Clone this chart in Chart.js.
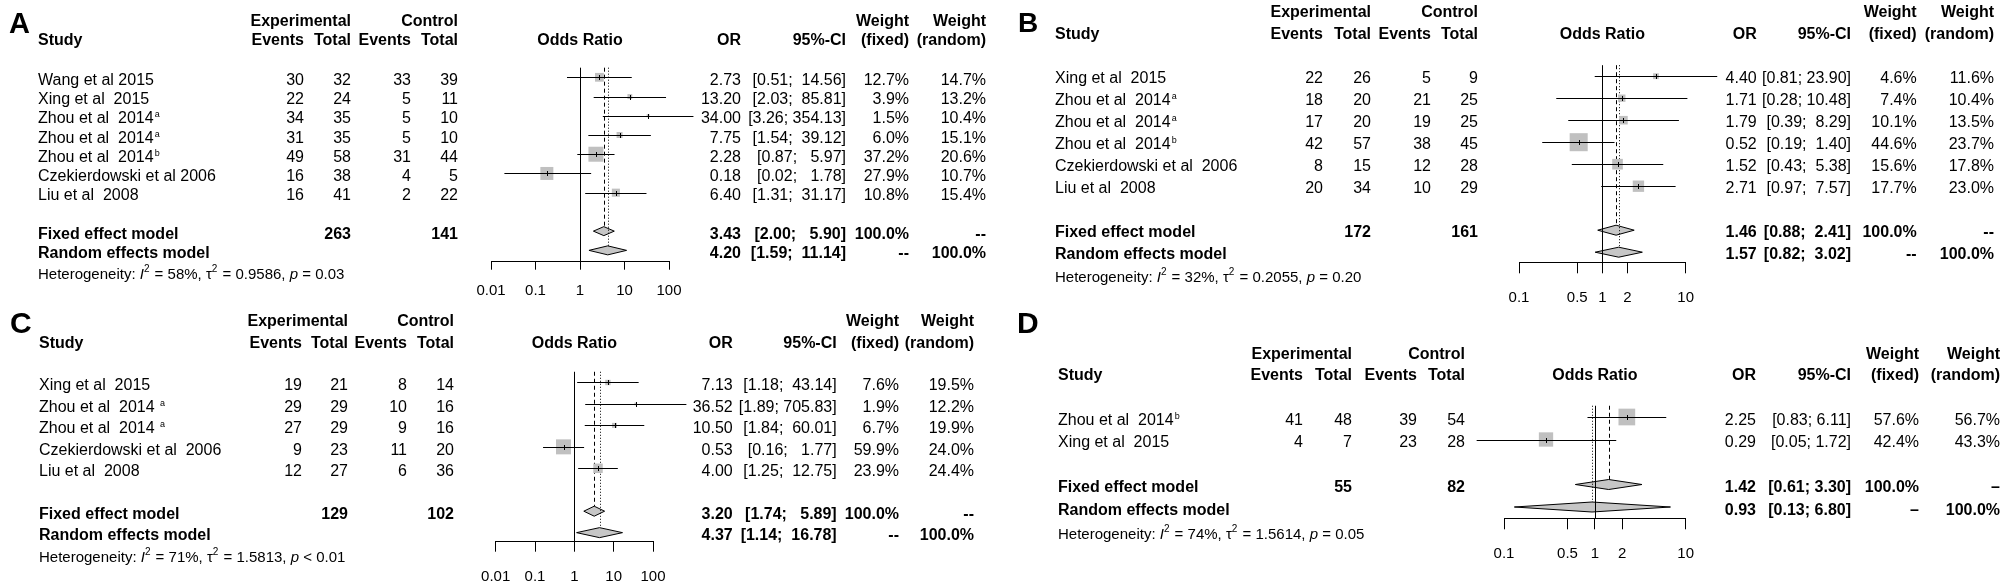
<!DOCTYPE html>
<html>
<head>
<meta charset="utf-8">
<script src="https://cdn.jsdelivr.net/npm/chart.js@4.4.1/dist/chart.umd.min.js"></script>
<style>
  html, body { margin: 0; padding: 0; background: #fff; }
  #wrap { position: relative; width: 2008px; height: 588px; overflow: hidden; background: #fff; }
  #wrap canvas { position: absolute; }
</style>
</head>
<body>
<div id="wrap">
  <canvas id="cA" width="1004" height="310" style="left:0px;top:0px"></canvas>
  <canvas id="cB" width="1004" height="310" style="left:1004px;top:0px"></canvas>
  <canvas id="cC" width="1004" height="278" style="left:0px;top:310px"></canvas>
  <canvas id="cD" width="1004" height="278" style="left:1004px;top:310px"></canvas>
</div>
<script>
// ---------- panel A ----------
const aStudy = ['Wang et al 2015', 'Xing et al  2015', 'Zhou et al  2014', 'Zhou et al  2014', 'Zhou et al  2014', 'Czekierdowski et al 2006', 'Liu et al  2008']
const aSup = ['', '', 'a', 'a', 'b', '', '']
const aExpEvents = [30, 22, 34, 31, 49, 16, 16]
const aExpTotal = [32, 24, 35, 35, 58, 38, 41]
const aCtlEvents = [33, 5, 5, 5, 31, 4, 2]
const aCtlTotal = [39, 11, 10, 10, 44, 5, 22]
const aOR = [2.73, 13.20, 34.00, 7.75, 2.28, 0.18, 6.40]
const aLower = [0.51, 2.03, 3.26, 1.54, 0.87, 0.02, 1.31]
const aUpper = [14.56, 85.81, 354.13, 39.12, 5.97, 1.78, 31.17]
const aWFixed = [12.7, 3.9, 1.5, 6.0, 37.2, 27.9, 10.8]
const aWRandom = [14.7, 13.2, 10.4, 15.1, 20.6, 10.7, 15.4]
const aFixed = [3.43, 2.00, 5.90]
const aRandom = [4.20, 1.59, 11.14]
const aTotals = [263, 141]
const aHet = ['58%', '0.9586', '= 0.03']
const aTicks = [0.01, 0.1, 1, 10, 100]
const aTickLabels = ['0.01', '0.1', '1', '10', '100']

// ---------- panel B ----------
const bStudy = ['Xing et al  2015', 'Zhou et al  2014', 'Zhou et al  2014', 'Zhou et al  2014', 'Czekierdowski et al  2006', 'Liu et al  2008']
const bSup = ['', 'a', 'a', 'b', '', '']
const bExpEvents = [22, 18, 17, 42, 8, 20]
const bExpTotal = [26, 20, 20, 57, 15, 34]
const bCtlEvents = [5, 21, 19, 38, 12, 10]
const bCtlTotal = [9, 25, 25, 45, 28, 29]
const bOR = [4.40, 1.71, 1.79, 0.52, 1.52, 2.71]
const bLower = [0.81, 0.28, 0.39, 0.19, 0.43, 0.97]
const bUpper = [23.90, 10.48, 8.29, 1.40, 5.38, 7.57]
const bWFixed = [4.6, 7.4, 10.1, 44.6, 15.6, 17.7]
const bWRandom = [11.6, 10.4, 13.5, 23.7, 17.8, 23.0]
const bFixed = [1.46, 0.88, 2.41]
const bRandom = [1.57, 0.82, 3.02]
const bTotals = [172, 161]
const bHet = ['32%', '0.2055', '= 0.20']
const bTicks = [0.1, 0.5, 1, 2, 10]
const bTickLabels = ['0.1', '0.5', '1', '2', '10']

// ---------- panel C ----------
const cStudy = ['Xing et al  2015', 'Zhou et al  2014 ', 'Zhou et al  2014 ', 'Czekierdowski et al  2006', 'Liu et al  2008']
const cSup = ['', 'a', 'a', '', '']
const cExpEvents = [19, 29, 27, 9, 12]
const cExpTotal = [21, 29, 29, 23, 27]
const cCtlEvents = [8, 10, 9, 11, 6]
const cCtlTotal = [14, 16, 16, 20, 36]
const cOR = [7.13, 36.52, 10.50, 0.53, 4.00]
const cLower = [1.18, 1.89, 1.84, 0.16, 1.25]
const cUpper = [43.14, 705.83, 60.01, 1.77, 12.75]
const cWFixed = [7.6, 1.9, 6.7, 59.9, 23.9]
const cWRandom = [19.5, 12.2, 19.9, 24.0, 24.4]
const cFixed = [3.20, 1.74, 5.89]
const cRandom = [4.37, 1.14, 16.78]
const cTotals = [129, 102]
const cHet = ['71%', '1.5813', '< 0.01']
const cTicks = [0.01, 0.1, 1, 10, 100]
const cTickLabels = ['0.01', '0.1', '1', '10', '100']

// ---------- panel D ----------
const dStudy = ['Zhou et al  2014', 'Xing et al  2015']
const dSup = ['b', '']
const dExpEvents = [41, 4]
const dExpTotal = [48, 7]
const dCtlEvents = [39, 23]
const dCtlTotal = [54, 28]
const dOR = [2.25, 0.29]
const dLower = [0.83, 0.05]
const dUpper = [6.11, 1.72]
const dWFixed = [57.6, 42.4]
const dWRandom = [56.7, 43.3]
const dFixed = [1.42, 0.61, 3.30]
const dRandom = [0.93, 0.13, 6.80]
const dTotals = [55, 82]
const dHet = ['74%', '1.5614', '= 0.05']
const dTicks = [0.1, 0.5, 1, 2, 10]
const dTickLabels = ['0.1', '0.5', '1', '2', '10']

const FONT = '"Liberation Sans", Arial, Helvetica, sans-serif'
Chart.defaults.font.family = FONT
Chart.defaults.color = '#000'

// page-pixel layout of each panel
const layoutA = {id: 'cA', left: 0, top: 0, w: 1004, h: 310,
  letter: 'A', letterX: 9, letterBase: 33, letterSize: 29,
  plotL: 491, plotR: 669, row0: 77.3, step: 19.23, axisY: 261.7, tickLen: 8, tickPad: 12.3,
  hdr1: 20.7, hdr2: 39.3, het: 274, textDy: 2,
  studyX: 38, cols: [304, 351, 411, 458], rcols: [741, 846, 909, 986],
  boxK: 2.46, dh: 4.5, dash: '--'}
const layoutB = {id: 'cB', left: 1004, top: 0, w: 1004, h: 310,
  letter: 'B', letterX: 1018, letterBase: 32, letterSize: 28,
  plotL: 1519, plotR: 1685.7, row0: 76.2, step: 22.0, axisY: 262.7, tickLen: 10.6, tickPad: 16,
  hdr1: 11.7, hdr2: 33.3, het: 276.7, textDy: 1.3,
  studyX: 1055, cols: [1323, 1371, 1431, 1478], rcols: [1756.7, 1851, 1916.7, 1994],
  boxK: 2.7, dh: 5, dash: '--'}
const layoutC = {id: 'cC', left: 0, top: 310, w: 1004, h: 278,
  letter: 'C', letterX: 10, letterBase: 333, letterSize: 30,
  plotL: 495.7, plotR: 653, row0: 382.5, step: 21.45, axisY: 541.7, tickLen: 10, tickPad: 16.6,
  hdr1: 320.3, hdr2: 342.3, het: 556.3, textDy: 2,
  studyX: 39, cols: [302, 348, 407, 454], rcols: [732.7, 836.7, 899, 974],
  boxK: 1.94, dh: 5, dash: '--'}
const layoutD = {id: 'cD', left: 1004, top: 310, w: 1004, h: 278,
  letter: 'D', letterX: 1017, letterBase: 333, letterSize: 30,
  plotL: 1504, plotR: 1685.7, row0: 417, step: 22.5, axisY: 518.3, tickLen: 11, tickPad: 16,
  hdr1: 353, hdr2: 374.7, het: 533.7, textDy: 2,
  studyX: 1058, cols: [1303, 1352, 1417, 1465], rcols: [1756, 1851, 1919, 2000],
  boxK: 2.2, dh: 5, dash: '\u2013'}

const panels = [
  {L: layoutA, study: aStudy, sup: aSup, expEv: aExpEvents, expTot: aExpTotal, ctlEv: aCtlEvents, ctlTot: aCtlTotal,
   or: aOR, lower: aLower, upper: aUpper, wFixed: aWFixed, wRandom: aWRandom, fixed: aFixed, random: aRandom,
   totals: aTotals, het: aHet, ticks: aTicks, tickLabels: aTickLabels},
  {L: layoutB, study: bStudy, sup: bSup, expEv: bExpEvents, expTot: bExpTotal, ctlEv: bCtlEvents, ctlTot: bCtlTotal,
   or: bOR, lower: bLower, upper: bUpper, wFixed: bWFixed, wRandom: bWRandom, fixed: bFixed, random: bRandom,
   totals: bTotals, het: bHet, ticks: bTicks, tickLabels: bTickLabels},
  {L: layoutC, study: cStudy, sup: cSup, expEv: cExpEvents, expTot: cExpTotal, ctlEv: cCtlEvents, ctlTot: cCtlTotal,
   or: cOR, lower: cLower, upper: cUpper, wFixed: cWFixed, wRandom: cWRandom, fixed: cFixed, random: cRandom,
   totals: cTotals, het: cHet, ticks: cTicks, tickLabels: cTickLabels},
  {L: layoutD, study: dStudy, sup: dSup, expEv: dExpEvents, expTot: dExpTotal, ctlEv: dCtlEvents, ctlTot: dCtlTotal,
   or: dOR, lower: dLower, upper: dUpper, wFixed: dWFixed, wRandom: dWRandom, fixed: dFixed, random: dRandom,
   totals: dTotals, het: dHet, ticks: dTicks, tickLabels: dTickLabels}
]

function put(ctx, s, x, y, align, font){
  ctx.font = font
  ctx.textAlign = align
  ctx.fillText(s, x, y)
  return ctx.measureText(s).width
}

// "[lo; hi]" with the columns padded like R does
function ciStrings(lo, hi){
  const ls = lo.map(v => v.toFixed(2)), hs = hi.map(v => v.toFixed(2))
  const wl = Math.max(...ls.map(s => s.length)), wh = Math.max(...hs.map(s => s.length))
  return ls.map((s, i) => '[' + s.padStart(wl) + '; ' + hs[i].padStart(wh) + ']')
}

function vline(ctx, x, y0, y1, dash){
  const xx = Math.round(x) + 0.5
  ctx.save()
  ctx.strokeStyle = '#000'
  ctx.lineWidth = 1
  ctx.setLineDash(dash)
  ctx.beginPath(); ctx.moveTo(xx, y0); ctx.lineTo(xx, y1); ctx.stroke()
  ctx.restore()
}

function diamond(ctx, xs, ys, est, row, dh){
  const y = ys.getPixelForValue(row)
  const xl = xs.getPixelForValue(est[1]), xm = xs.getPixelForValue(est[0]), xr = xs.getPixelForValue(est[2])
  ctx.save()
  ctx.fillStyle = '#c6c6c6'
  ctx.strokeStyle = '#000'
  ctx.lineWidth = 1
  ctx.beginPath()
  ctx.moveTo(xl, y); ctx.lineTo(xm, y - dh); ctx.lineTo(xr, y); ctx.lineTo(xm, y + dh); ctx.closePath()
  ctx.fill(); ctx.stroke()
  ctx.restore()
}

function forestPlugin(p){
  const L = p.L
  const n = p.or.length
  return {
    id: 'forest',
    beforeDatasetsDraw(chart){
      const ctx = chart.ctx, xs = chart.scales.x, ys = chart.scales.y, area = chart.chartArea
      diamond(ctx, xs, ys, p.fixed, n + 1, L.dh)
      diamond(ctx, xs, ys, p.random, n + 2, L.dh)
      vline(ctx, xs.getPixelForValue(1), area.top, area.bottom, [])
      vline(ctx, xs.getPixelForValue(p.fixed[0]), area.top, ys.getPixelForValue(n + 1) - L.dh, [4, 3])
      vline(ctx, xs.getPixelForValue(p.random[0]), area.top, ys.getPixelForValue(n + 2) - L.dh, [1, 2])
    },
    afterDatasetsDraw(chart){
      const ctx = chart.ctx, xs = chart.scales.x, ys = chart.scales.y
      ctx.save()
      ctx.strokeStyle = '#000'
      ctx.lineWidth = 1
      p.or.forEach((v, i) => {
        const y = Math.round(ys.getPixelForValue(i)) + 0.5
        ctx.beginPath()
        ctx.moveTo(xs.getPixelForValue(p.lower[i]), y)
        ctx.lineTo(xs.getPixelForValue(p.upper[i]), y)
        ctx.stroke()
        const xm = Math.round(xs.getPixelForValue(v)) + 0.5
        ctx.beginPath(); ctx.moveTo(xm, y - 2.5); ctx.lineTo(xm, y + 2.5); ctx.stroke()
      })
      ctx.restore()
    },
    afterDraw(chart){
      const ctx = chart.ctx, ys = chart.scales.y
      const X = v => v - L.left, Y = v => v - L.top
      const rowY = r => ys.getPixelForValue(r) + L.textDy + 5.7
      const R = '16px ' + FONT, B = 'bold 16px ' + FONT
      const ci = ciStrings([...p.lower, p.fixed[1], p.random[1]], [...p.upper, p.fixed[2], p.random[2]])
      ctx.save()
      ctx.fillStyle = '#000'
      ctx.textBaseline = 'alphabetic'

      put(ctx, L.letter, X(L.letterX), Y(L.letterBase), 'left', 'bold ' + L.letterSize + 'px ' + FONT)

      // headers
      const h1 = Y(L.hdr1) + 5.7, h2 = Y(L.hdr2) + 5.7
      put(ctx, 'Experimental', X(L.cols[1]), h1, 'right', B)
      put(ctx, 'Control', X(L.cols[3]), h1, 'right', B)
      put(ctx, 'Weight', X(L.rcols[2]), h1, 'right', B)
      put(ctx, 'Weight', X(L.rcols[3]), h1, 'right', B)
      put(ctx, 'Study', X(L.studyX), h2, 'left', B)
      put(ctx, 'Events', X(L.cols[0]), h2, 'right', B)
      put(ctx, 'Total', X(L.cols[1]), h2, 'right', B)
      put(ctx, 'Events', X(L.cols[2]), h2, 'right', B)
      put(ctx, 'Total', X(L.cols[3]), h2, 'right', B)
      put(ctx, 'Odds Ratio', X((L.plotL + L.plotR) / 2), h2, 'center', B)
      put(ctx, 'OR', X(L.rcols[0]), h2, 'right', B)
      put(ctx, '95%-CI', X(L.rcols[1]), h2, 'right', B)
      put(ctx, '(fixed)', X(L.rcols[2]), h2, 'right', B)
      put(ctx, '(random)', X(L.rcols[3]), h2, 'right', B)

      // study rows
      p.study.forEach((s, i) => {
        const y = rowY(i)
        const w = put(ctx, s, X(L.studyX), y, 'left', R)
        if (p.sup[i]) put(ctx, p.sup[i], X(L.studyX) + w + 1, y - 6, 'left', '9px ' + FONT)
        put(ctx, String(p.expEv[i]), X(L.cols[0]), y, 'right', R)
        put(ctx, String(p.expTot[i]), X(L.cols[1]), y, 'right', R)
        put(ctx, String(p.ctlEv[i]), X(L.cols[2]), y, 'right', R)
        put(ctx, String(p.ctlTot[i]), X(L.cols[3]), y, 'right', R)
        put(ctx, p.or[i].toFixed(2), X(L.rcols[0]), y, 'right', R)
        put(ctx, ci[i], X(L.rcols[1]), y, 'right', R)
        put(ctx, p.wFixed[i].toFixed(1) + '%', X(L.rcols[2]), y, 'right', R)
        put(ctx, p.wRandom[i].toFixed(1) + '%', X(L.rcols[3]), y, 'right', R)
      })

      // pooled rows
      const yf = rowY(n + 1), yr = rowY(n + 2)
      put(ctx, 'Fixed effect model', X(L.studyX), yf, 'left', B)
      put(ctx, String(p.totals[0]), X(L.cols[1]), yf, 'right', B)
      put(ctx, String(p.totals[1]), X(L.cols[3]), yf, 'right', B)
      put(ctx, p.fixed[0].toFixed(2), X(L.rcols[0]), yf, 'right', B)
      put(ctx, ci[n], X(L.rcols[1]), yf, 'right', B)
      put(ctx, '100.0%', X(L.rcols[2]), yf, 'right', B)
      put(ctx, L.dash, X(L.rcols[3]), yf, 'right', B)
      put(ctx, 'Random effects model', X(L.studyX), yr, 'left', B)
      put(ctx, p.random[0].toFixed(2), X(L.rcols[0]), yr, 'right', B)
      put(ctx, ci[n + 1], X(L.rcols[1]), yr, 'right', B)
      put(ctx, L.dash, X(L.rcols[2]), yr, 'right', B)
      put(ctx, '100.0%', X(L.rcols[3]), yr, 'right', B)

      // heterogeneity line
      const hy = Y(L.het) + 5.4
      const HR = '15px ' + FONT, HI = 'italic 15px ' + FONT, HS = '10px ' + FONT
      const parts = [
        ['Heterogeneity: ', HR, 0], ['I', HI, 0], ['2', HS, -7], [' = ' + p.het[0] + ', \u03c4', HR, 0],
        ['2', HS, -7], [' = ' + p.het[1] + ', ', HR, 0], ['p', HI, 0], [' ' + p.het[2], HR, 0]
      ]
      let hx = X(L.studyX)
      parts.forEach(([t, f, dy]) => { hx += put(ctx, t, hx, hy + dy, 'left', f) + (dy ? 1 : 0) })
      ctx.restore()
    }
  }
}

function buildChart(p){
  const L = p.L
  const H = L.tickLen + L.tickPad + 18
  return new Chart(document.getElementById(L.id), {
    type: 'scatter',
    data: {
      datasets: [{
        data: p.or.map((v, i) => ({x: v, y: i})),
        pointStyle: 'rect',
        pointRadius: p.wFixed.map(w => L.boxK * Math.sqrt(w) / Math.SQRT2),
        pointBackgroundColor: '#c0c0c0',
        pointBorderColor: '#c0c0c0',
        pointBorderWidth: 0,
        clip: false
      }]
    },
    options: {
      responsive: false,
      animation: false,
      devicePixelRatio: 1,
      events: [],
      layout: {
        padding: {
          left: L.plotL - L.left,
          right: L.w - (L.plotR - L.left),
          top: L.row0 - L.step / 2 - L.top,
          bottom: L.h - (L.axisY - L.top) - H
        }
      },
      plugins: {legend: {display: false}, tooltip: {enabled: false}},
      scales: {
        x: {
          type: 'logarithmic',
          min: p.ticks[0],
          max: p.ticks[p.ticks.length - 1],
          afterBuildTicks: s => { s.ticks = p.ticks.map(v => ({value: v})) },
          afterFit: s => { s.height = H },
          ticks: {
            autoSkip: false, maxRotation: 0, minRotation: 0, padding: L.tickPad, color: '#000',
            font: {family: FONT, size: 15},
            callback: (v, i) => p.tickLabels[i]
          },
          grid: {drawOnChartArea: false, drawTicks: true, tickLength: L.tickLen, color: '#000', lineWidth: 1},
          border: {display: true, color: '#000', width: 1}
        },
        y: {
          type: 'linear', display: false, reverse: true,
          min: -0.5, max: (L.axisY - L.row0) / L.step
        }
      }
    },
    plugins: [forestPlugin(p)]
  })
}

panels.forEach(buildChart)
</script>
</body>
</html>
